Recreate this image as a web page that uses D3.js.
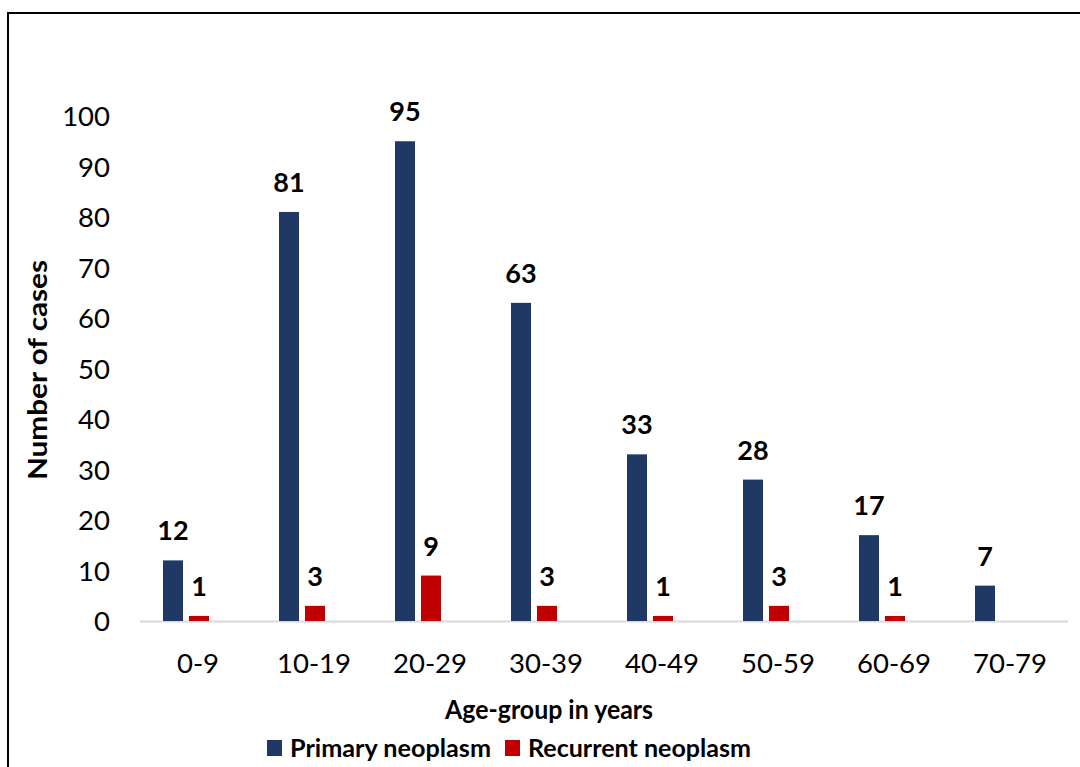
<!DOCTYPE html>
<html>
<head>
<meta charset="utf-8">
<script src="https://cdn.jsdelivr.net/npm/d3@7"></script>
<style>
  html, body { margin: 0; padding: 0; background: #fff; }
  svg { display: block; }
  text { font-family: Lato, "Open Sans", sans-serif; fill: #000; }
</style>
</head>
<body>
<svg id="chart" width="1080" height="767"></svg>
<script>
// Age groups and case counts
const categories = ["0-9", "10-19", "20-29", "30-39", "40-49", "50-59", "60-69", "70-79"];
const primary    = [12, 81, 95, 63, 33, 28, 17, 7];
const recurrent  = [1, 3, 9, 3, 1, 3, 1, null];
const seriesNames = ["Primary neoplasm", "Recurrent neoplasm"];
const seriesColors = ["#1f3864", "#c00000"];
const yTicks = [0, 10, 20, 30, 40, 50, 60, 70, 80, 90, 100];

const svg = d3.select("#chart");

// chart frame
svg.append("rect")
  .attr("x", 8).attr("y", 13)
  .attr("width", 1200).attr("height", 900)
  .attr("fill", "none").attr("stroke", "#000").attr("stroke-width", 2);

const x = d3.scaleBand().domain(categories).range([140, 1068]).padding(0);
// three slots per group; the third slot stays empty
const slots = [0, 1, 2];
const xs = d3.scaleBand().domain(slots).range([-38, 40])
  .paddingInner(6 / 26).paddingOuter(3 / 26);
const y = d3.scaleLinear().domain([0, 100]).range([621, 116]);

// y axis tick labels
const yAxis = d3.axisLeft(y).tickValues(yTicks).tickSize(0).tickPadding(0);
const gy = svg.append("g").attr("transform", "translate(110,0)").call(yAxis);
gy.select(".domain").remove();
gy.selectAll("text")
  .attr("font-size", 27.5).attr("font-family", "Lato, 'Open Sans', sans-serif")
  .attr("fill", "#000").attr("dy", "0.36em").attr("x", 0);

// x axis: category labels and baseline
const xAxis = d3.axisBottom(x).tickSize(0).tickPadding(0);
const gx = svg.append("g").attr("transform", "translate(0,621)").call(xAxis);
gx.select(".domain").remove();
gx.selectAll("text")
  .attr("font-size", 27.5).attr("font-family", "Lato, 'Open Sans', sans-serif")
  .attr("fill", "#000").attr("dy", 0).attr("y", 52);
svg.append("line")
  .attr("x1", x.range()[0]).attr("x2", x.range()[1])
  .attr("y1", y(0) + 0.5).attr("y2", y(0) + 0.5)
  .attr("stroke", "#d9d9d9").attr("stroke-width", 2);

// bars and value labels
const series = [primary, recurrent];
series.forEach((vals, si) => {
  const rows = categories.map((c, i) => ({ c, v: vals[i] })).filter(d => d.v != null);
  const g = svg.append("g");
  g.selectAll("rect").data(rows).join("rect")
    .attr("x", d => x(d.c) + x.bandwidth() / 2 + xs(si))
    .attr("width", xs.bandwidth())
    .attr("y", d => y(d.v))
    .attr("height", d => y(0) - y(d.v))
    .attr("fill", seriesColors[si]);
  g.selectAll("text").data(rows).join("text")
    .attr("x", d => x(d.c) + x.bandwidth() / 2 + xs(si) + xs.bandwidth() / 2)
    .attr("y", d => y(d.v) - 20)
    .attr("text-anchor", "middle")
    .attr("font-size", 27).attr("font-weight", 700)
    .text(d => d.v);
});

// axis titles
svg.append("text")
  .attr("transform", "translate(47,370) rotate(-90)")
  .attr("text-anchor", "middle")
  .attr("font-size", 27).attr("font-weight", 700)
  .attr("textLength", 220).attr("lengthAdjust", "spacingAndGlyphs")
  .text("Number of cases");
svg.append("text")
  .attr("x", 549).attr("y", 719)
  .attr("text-anchor", "middle")
  .attr("font-size", 27).attr("font-weight", 700)
  .attr("textLength", 208).attr("lengthAdjust", "spacingAndGlyphs")
  .text("Age-group in years");

// legend
const legendX = [267, 505];
const legendLen = [201, 223];
seriesNames.forEach((name, i) => {
  svg.append("rect")
    .attr("x", legendX[i]).attr("y", 740)
    .attr("width", 15).attr("height", 16)
    .attr("fill", seriesColors[i]);
  svg.append("text")
    .attr("x", legendX[i] + 23).attr("y", 757)
    .attr("font-size", 25).attr("font-weight", 700)
    .attr("textLength", legendLen[i]).attr("lengthAdjust", "spacingAndGlyphs")
    .text(name);
});
</script>
</body>
</html>
